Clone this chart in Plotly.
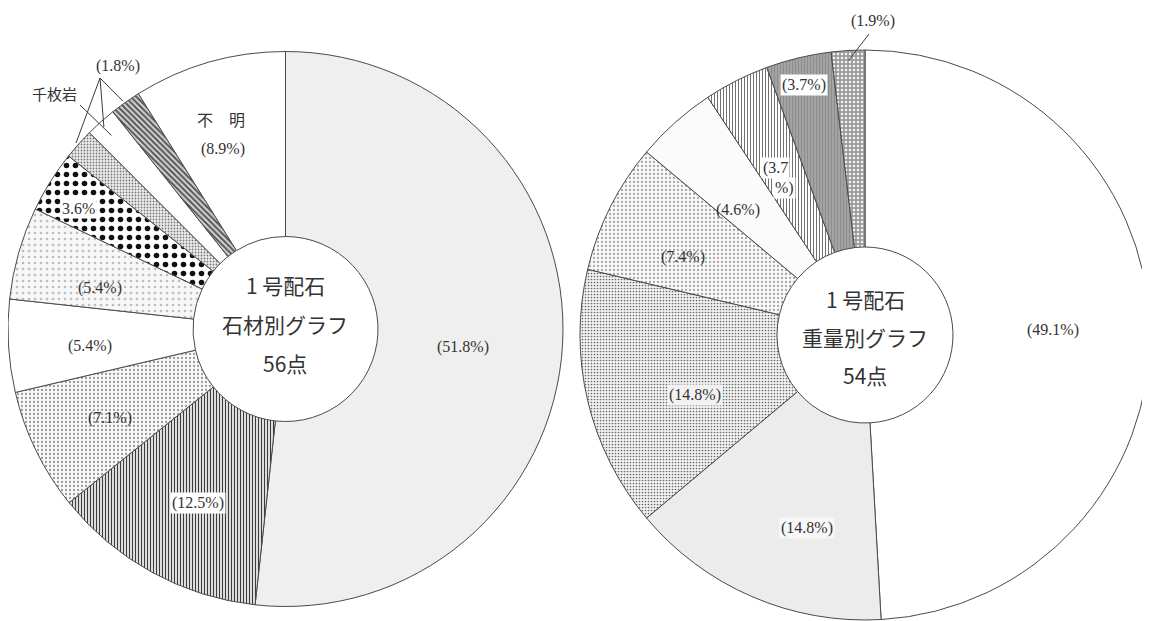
import math
import plotly.graph_objects as go

# page offset (browser body margin) and figure size
OFF = 8
W, H = 1150 - OFF, 621 - OFF

# ---------------- data ----------------
left_categories = ["c1", "c2", "c3", "c4", "c5", "c6", "c7", "千枚岩", "c9", "不明"]
left_values = [51.8, 12.5, 7.1, 5.4, 5.4, 3.6, 1.8, 1.8, 1.8, 8.9]
left_texts = ["(51.8%)", "(12.5%)", "(7.1%)", "(5.4%)", "(5.4%)", "3.6%", "", "", "", "(8.9%)"]

right_categories = ["w1", "w2", "w3", "w4", "w5", "w6", "w7", "w8"]
right_values = [49.1, 14.8, 14.8, 7.4, 4.6, 3.7, 3.7, 1.9]
right_texts = ["(49.1%)", "(14.8%)", "(14.8%)", "(7.4%)", "(4.6%)", "", "(3.7%)", ""]

left_center_text = ["1 号配石", "石材別グラフ", "56点"]
right_center_text = ["1 号配石", "重量別グラフ", "54点"]

# ---------------- layout constants (page pixels) ----------------
L_C, L_R, L_r = (284, 329), 279, 93
R_C, R_R, R_r = (865, 335), 285, 88

left_label_pos = [(463, 347), (198, 503), (110, 418), (90, 346), (100, 288), (78, 208),
                  None, None, None, (223, 149)]
left_label_bg = [None, "white", None, None, None, "white", None, None, None, None]
right_label_pos = [(1053, 330), (807, 528), (695, 395), (683, 257), (738, 210), None, (804, 85), None]
right_label_bg = [None, "#f7f7f7", "#f2f2f2", None, None, None, "white", None]

left_style = dict(
    colors=["#efefef", "white", "#fafafa", "white", "#f7f7f7", "white", "#eeeeee", "white", "#cfcfcf", "white"],
    shape=["", "|", ".", "", ".", ".", ".", "", "\\", ""],
    fg=["#efefef", "#3c3c3c", "#9a9a9a", "white", "#bdbdbd", "#111111", "#7a7a7a", "white", "#4a4a4a", "white"],
    size=[8, 3, 4, 8, 6, 9, 3, 8, 4, 8],
    solidity=[0.3, 0.45, 0.25, 0.3, 0.15, 0.3, 0.3, 0.3, 0.45, 0.3],
)
right_style = dict(
    colors=["white", "#ececec", "#f3f3f3", "#fafafa", "#fbfbfb", "white", "#a3a3a3", "#9c9c9c"],
    shape=["", "", ".", ".", "", "|", "|", "."],
    fg=["white", "#ececec", "#666666", "#a8a8a8", "#fbfbfb", "#707070", "#8a8a8a", "#f4f4f4"],
    size=[8, 8, 3, 4, 8, 3, 3, 4],
    solidity=[0.3, 0.3, 0.25, 0.25, 0.3, 0.35, 0.3, 0.3],
)


def paper(x, y):
    return (x - OFF) / W, 1 - (y - OFF) / H


def dom(c, R):
    x0, y1 = paper(c[0] - R, c[1] - R)
    x1, y0 = paper(c[0] + R, c[1] + R)
    return dict(x=[max(0.0, x0), min(1.0, x1)], y=[max(0.0, y0), min(1.0, y1)])


def pie(values, cats, c, R, r, st):
    return go.Pie(
        values=values, labels=cats, sort=False, direction="clockwise", rotation=0,
        hole=r / R, domain=dom(c, R), textinfo="none", hoverinfo="skip", showlegend=False,
        marker=dict(colors=st["colors"], line=dict(color="#4a4a4a", width=1),
                    pattern=dict(shape=st["shape"], fgcolor=st["fg"], bgcolor=st["colors"],
                                 size=st["size"], solidity=st["solidity"], fillmode="replace")),
    )


def slice_point(values, idx, c, R, frac):
    tot = sum(values)
    start = sum(values[:idx]) / tot * 360
    mid = start + values[idx] / tot * 360 / 2
    a = math.radians(mid)
    return c[0] + R * frac * math.sin(a), c[1] - R * frac * math.cos(a)


fig = go.Figure()
fig.add_trace(pie(left_values, left_categories, L_C, L_R, L_r, left_style))
fig.add_trace(pie(right_values, right_categories, R_C, R_R, R_r, right_style))

ann = []
LAB_FONT = dict(family="Liberation Serif, Noto Sans CJK JP", size=16, color="#333333")
CJK_FONT = dict(family="Noto Sans CJK JP", size=21, color="#333333")
CJK_SMALL = dict(family="Noto Sans CJK JP", size=15, color="#333333")


def add_label(text, pos, bg=None, font=LAB_FONT):
    x, y = paper(*pos)
    a = dict(x=x, y=y, xref="paper", yref="paper", text=text, showarrow=False, font=font,
             xanchor="center", yanchor="middle")
    if bg:
        a.update(bgcolor=bg, borderpad=1)
    ann.append(a)


for t, p, b in zip(left_texts, left_label_pos, left_label_bg):
    if t and p:
        add_label(t, p, b)
for t, p, b in zip(right_texts, right_label_pos, right_label_bg):
    if t and p:
        add_label(t, p, b)

# extra texts
add_label("不　明", (221, 119), font=dict(family="Noto Sans CJK JP", size=16, color="#333333"))
add_label("(1.8%)", (118, 66))
add_label("千枚岩", (55, 93), font=CJK_SMALL)
add_label("(1.9%)", (873, 21))
add_label("(3.7", (775, 168), bg="white")
add_label("%)", (784, 188), bg="white")

# center texts
for i, t in enumerate(left_center_text):
    add_label(t, (L_C[0] + 1, L_C[1] - 44 + 39 * i), font=CJK_FONT)
for i, t in enumerate(right_center_text):
    add_label(t, (R_C[0], R_C[1] - 36 + 38 * i), font=CJK_FONT)

# leader lines
shapes = []


def line(p0, p1):
    x0, y0 = paper(*p0)
    x1, y1 = paper(*p1)
    shapes.append(dict(type="line", xref="paper", yref="paper", x0=x0, y0=y0, x1=x1, y1=y1,
                       line=dict(color="#3a3a3a", width=1)))


apex = (100, 78)
for idx, frac in [(6, 1.0), (7, 0.97), (8, 1.0)]:
    line(apex, slice_point(left_values, idx, L_C, L_R, frac))
line((80, 105), slice_point(left_values, 7, L_C, L_R, 0.93))
line((869, 34), slice_point(right_values, 7, R_C, R_R, 0.965))

fig.update_layout(width=W, height=H, margin=dict(l=0, r=0, t=0, b=0),
                  paper_bgcolor="white", plot_bgcolor="white",
                  annotations=ann, shapes=shapes)
fig.write_html("out.html")
